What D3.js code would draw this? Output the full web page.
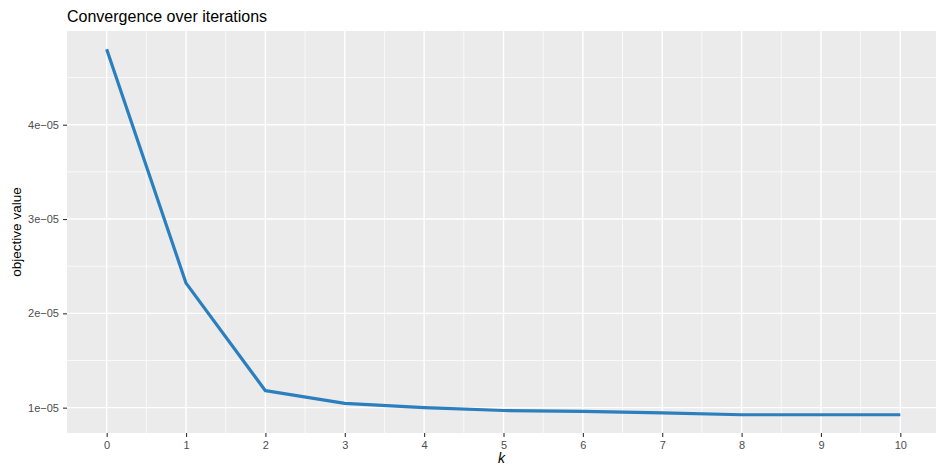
<!DOCTYPE html>
<html>
<head>
<meta charset="UTF-8">
<title>Convergence over iterations</title>
<script src="https://d3js.org/d3.v7.min.js"></script>
<style>
  body { margin: 0; background: #fff; }
  svg { display: block; font-family: "Liberation Sans", Arial, sans-serif; }
</style>
</head>
<body>
<div id="chart"></div>
<script>
// iteration index and objective value
const iterations = [0, 1, 2, 3, 4, 5, 6, 7, 8, 9, 10];
const objective = [4.80e-05, 2.32e-05, 1.18e-05, 1.045e-05, 1.00e-05, 0.97e-05, 0.96e-05, 0.945e-05, 0.925e-05, 0.925e-05, 0.925e-05];
const xTicks = [0, 1, 2, 3, 4, 5, 6, 7, 8, 9, 10];
const yTicks = [1e-05, 2e-05, 3e-05, 4e-05];
const yTickLabels = ["1e\u221205", "2e\u221205", "3e\u221205", "4e\u221205"];
const yMinor = [1.5e-05, 2.5e-05, 3.5e-05, 4.5e-05];

const W = 936, H = 465;
const panel = { left: 67, right: 940, top: 31, bottom: 433 };

const svg = d3.select("#chart").append("svg")
    .attr("width", W).attr("height", H);

// ggplot-style 5% expansion
const xExt = d3.extent(iterations), xPad = (xExt[1] - xExt[0]) * 0.05;
const yExt = d3.extent(objective), yPad = (yExt[1] - yExt[0]) * 0.05;

const x = d3.scaleLinear()
    .domain([xExt[0] - xPad, xExt[1] + xPad])
    .range([panel.left, panel.right]);
const y = d3.scaleLinear()
    .domain([yExt[0] - yPad, yExt[1] + yPad])
    .range([panel.bottom, panel.top]);

svg.append("rect")
    .attr("x", panel.left).attr("y", panel.top)
    .attr("width", panel.right - panel.left)
    .attr("height", panel.bottom - panel.top)
    .attr("fill", "#ebebeb");

const grid = svg.append("g");
const xMinor = d3.range(0.5, 10, 1);

grid.selectAll(".xmin").data(xMinor).join("line")
    .attr("x1", d => x(d)).attr("x2", d => x(d))
    .attr("y1", panel.top).attr("y2", panel.bottom)
    .attr("stroke", "#fff").attr("stroke-width", 0.7);
grid.selectAll(".ymin").data(yMinor).join("line")
    .attr("y1", d => y(d)).attr("y2", d => y(d))
    .attr("x1", panel.left).attr("x2", panel.right)
    .attr("stroke", "#fff").attr("stroke-width", 0.7);
grid.selectAll(".xmaj").data(xTicks).join("line")
    .attr("x1", d => x(d)).attr("x2", d => x(d))
    .attr("y1", panel.top).attr("y2", panel.bottom)
    .attr("stroke", "#fff").attr("stroke-width", 1.4);
grid.selectAll(".ymaj").data(yTicks).join("line")
    .attr("y1", d => y(d)).attr("y2", d => y(d))
    .attr("x1", panel.left).attr("x2", panel.right)
    .attr("stroke", "#fff").attr("stroke-width", 1.4);

// axes
const xAxis = d3.axisBottom(x).tickValues(xTicks).tickSize(4).tickPadding(4);
const gx = svg.append("g")
    .attr("transform", `translate(0,${panel.bottom})`)
    .call(xAxis);
gx.select(".domain").remove();
gx.selectAll(".tick line").attr("stroke", "#333").attr("stroke-width", 1.1);
gx.selectAll(".tick text").attr("fill", "#4d4d4d").attr("font-size", 11)
    .attr("font-family", "Liberation Sans, Arial, sans-serif");

const yAxis = d3.axisLeft(y).tickValues(yTicks)
    .tickFormat((d, i) => yTickLabels[i]).tickSize(4).tickPadding(4);
const gy = svg.append("g")
    .attr("transform", `translate(${panel.left},0)`)
    .call(yAxis);
gy.select(".domain").remove();
gy.selectAll(".tick line").attr("stroke", "#333").attr("stroke-width", 1.1);
gy.selectAll(".tick text").attr("fill", "#4d4d4d").attr("font-size", 11)
    .attr("font-family", "Liberation Sans, Arial, sans-serif");

// line
const line = d3.line()
    .x((d, i) => x(iterations[i]))
    .y(d => y(d));
svg.append("path")
    .datum(objective)
    .attr("d", line)
    .attr("fill", "none")
    .attr("stroke", "#2b7fbe")
    .attr("stroke-width", 3.2)
    .attr("stroke-linejoin", "round");

// titles
svg.append("text")
    .attr("x", panel.left).attr("y", 22)
    .attr("font-size", 16).attr("fill", "#000")
    .text("Convergence over iterations");

svg.append("text")
    .attr("x", (panel.left + W) / 2).attr("y", 463)
    .attr("text-anchor", "middle")
    .attr("font-size", 14).attr("font-style", "italic").attr("fill", "#000")
    .text("k");

svg.append("text")
    .attr("transform", `translate(21,${(panel.top + panel.bottom) / 2}) rotate(-90)`)
    .attr("text-anchor", "middle")
    .attr("font-size", 13.5).attr("fill", "#000")
    .text("objective value");
</script>
</body>
</html>
